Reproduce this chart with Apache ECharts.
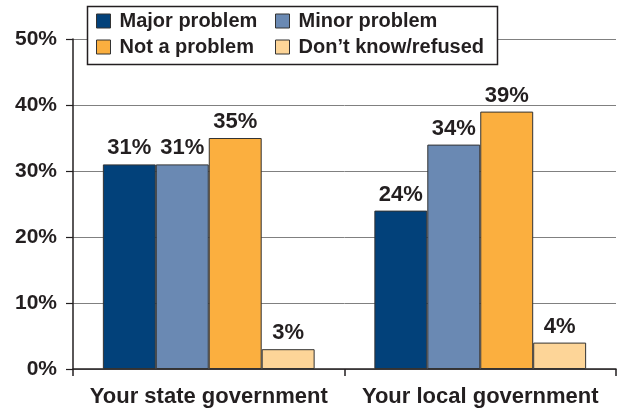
<!DOCTYPE html>
<html lang="en" style="height: 100%">
<head>
<meta charset="utf-8">
<title>Problem ratings</title>
</head>
<body style="height: 100%; margin: 0; background: #fff">
<div id="container" style="height: 100%"></div>
<script type="text/javascript" src="https://cdn.jsdelivr.net/npm/echarts/dist/echarts.min.js"></script>
<script type="text/javascript">
var dom = document.getElementById('container');
var myChart = echarts.init(dom);

// data
var categories = ['Your state government', 'Your local government'];
var majorProblem = [31, 24];
var minorProblem = [31, 34];
var notAProblem = [35, 39];
var dontKnow = [3, 4];
var yTicks = [0, 10, 20, 30, 40, 50];

var colors = ['#02417a', '#6a89b3', '#fbaf3f', '#fdd598'];
var ink = '#231f20';
var fontFam = '"Liberation Sans", Arial, sans-serif';

function makeSeries(name, values, idx) {
  return {
    name: name,
    type: 'bar',
    data: values,
    barGap: '0%',
    barCategoryGap: '22%',
    itemStyle: { color: colors[idx], borderColor: '#333', borderWidth: 1 },
    label: {
      show: true,
      position: 'top',
      distance: 5,
      formatter: '{c}%',
      color: ink,
      fontSize: 22,
      fontWeight: 'bold',
      fontFamily: fontFam
    }
  };
}

var legendText = {
  color: ink, fontSize: 20, fontWeight: 'bold', fontFamily: fontFam,
  padding: [0, 0, 0, 4]
};
var legendBase = {
  orient: 'vertical',
  top: 11,
  padding: 0,
  z: 10,
  itemWidth: 14, itemHeight: 14, itemGap: 6,
  icon: 'rect',
  textStyle: legendText,
  itemStyle: { borderColor: '#333', borderWidth: 1 }
};

var option = {
  animation: false,
  grid: { left: 73, right: 1, top: 39, bottom: 41, containLabel: false },
  legend: [
    Object.assign({ data: ['Major problem', 'Not a problem'], left: 96 }, legendBase),
    Object.assign({ data: ['Minor problem', "Don\u2019t know/refused"], left: 275 }, legendBase)
  ],
  graphic: [{
    type: 'rect',
    shape: { x: 87.5, y: 6.5, width: 410, height: 58 },
    style: { fill: '#fff', stroke: ink, lineWidth: 1.5 },
    z: 2
  }],
  xAxis: {
    type: 'category',
    data: categories,
    axisLine: { lineStyle: { color: ink, width: 1.5 } },
    axisTick: { show: true, length: 7, lineStyle: { color: ink, width: 1.5 } },
    axisLabel: {
      interval: 0,
      color: ink, fontSize: 22, fontWeight: 'bold', fontFamily: fontFam, margin: 17
    }
  },
  yAxis: {
    type: 'value',
    min: yTicks[0],
    max: yTicks[yTicks.length - 1],
    interval: 10,
    axisLine: { show: true, lineStyle: { color: ink, width: 1.5 } },
    axisTick: { show: true, length: 7, lineStyle: { color: ink, width: 1.2 } },
    axisLabel: {
      formatter: '{value}%', color: ink, fontSize: 21, fontWeight: 'bold',
      fontFamily: fontFam, margin: 16
    },
    splitLine: { show: true, lineStyle: { color: '#808080', width: 1 } }
  },
  series: [
    makeSeries('Major problem', majorProblem, 0),
    makeSeries('Minor problem', minorProblem, 1),
    makeSeries('Not a problem', notAProblem, 2),
    makeSeries("Don\u2019t know/refused", dontKnow, 3)
  ]
};

myChart.setOption(option);
window.addEventListener('resize', myChart.resize);
</script>
</body>
</html>
